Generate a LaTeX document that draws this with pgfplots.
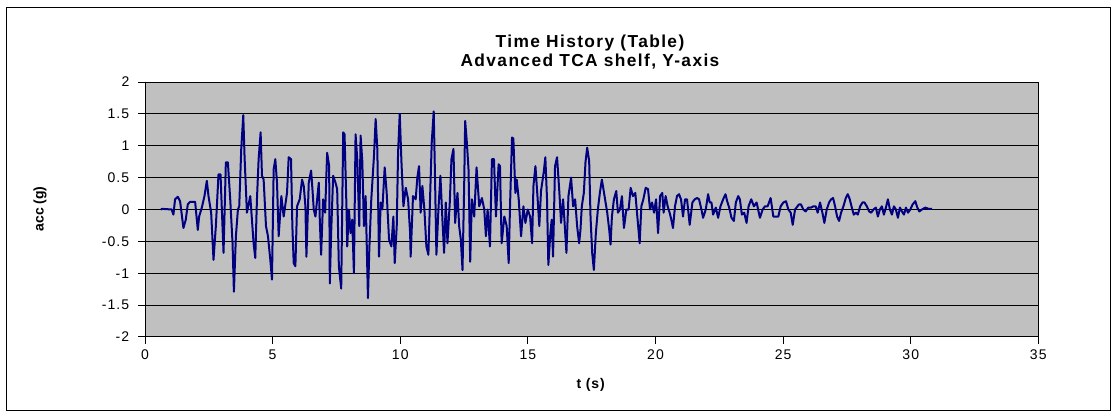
\documentclass[border=0pt]{standalone}
\usepackage{fontspec}
\setmainfont{Liberation Sans}
\usepackage{pgfplots}
\pgfplotsset{compat=1.18}
\definecolor{excelgray}{HTML}{C0C0C0}
\definecolor{excelnavy}{HTML}{000080}
\begin{document}
\begin{tikzpicture}
\path[use as bounding box] (0,0) rectangle (836.25pt,313.5pt);
\draw[black, line width=0.75pt] (4.5pt,5.25pt) rectangle (832.5pt,307.5pt);
\begin{axis}[
  at={(108.75pt,60.75pt)}, anchor=south west,
  scale only axis, width=670pt, height=191.25pt,
  xmin=0, xmax=35, ymin=-2, ymax=2,
  xtick={0,5,...,35}, ytick={-2,-1.5,...,2},
  axis background/.style={fill=excelgray},
  axis line style={draw=black, line width=0.75pt},
  ymajorgrids, grid style={black, line width=0.75pt},
  tick align=outside, major tick length=5.25pt,
  tick style={black, line width=0.75pt},
  xtick pos=bottom, ytick pos=left,
  /pgf/number format/assume math mode=true,
  tick label style={font=\fontsize{10.5}{12}\selectfont\addfontfeatures{LetterSpace=8}},
  yticklabel style={/pgf/number format/fixed, xshift=-3pt},
  xticklabel style={yshift=-1pt},
  clip=false,
]
\addplot[excelnavy, line width=1.5pt, line join=round] coordinates {
(0.62,0) (0.68,0.01) (1.047,0) (1.113,-0.08) (1.178,0.16) (1.283,0.20) (1.375,0.13) (1.506,-0.29) (1.597,-0.16) (1.676,0.08) (1.767,0.12) (1.964,0.12) (2.069,-0.32) (2.121,-0.11) (2.226,0.03) (2.33,0.21) (2.422,0.45) (2.488,0.21) (2.592,-0.05) (2.684,-0.79) (2.776,-0.26) (2.88,0.55) (2.959,0.55) (3.011,0) (3.077,-0.68) (3.168,0.74) (3.247,0.74) (3.339,0.16) (3.43,-0.53) (3.483,-1.29) (3.561,-0.42) (3.64,0) (3.692,0.05) (3.771,0.95) (3.85,1.48) (3.901,0.82) (3.993,-0.05) (4.124,0.21) (4.255,-0.53) (4.32,-0.76) (4.386,0.16) (4.452,0.79) (4.53,1.21) (4.583,0.53) (4.648,0.47) (4.74,-0.26) (4.818,-0.42) (4.91,-0.79) (4.975,-1.1) (5.041,0.63) (5.106,0.79) (5.172,0.42) (5.237,-0.42) (5.342,0.21) (5.433,-0.11)
(5.564,0.26) (5.63,0.82) (5.721,0.79) (5.774,-0.26) (5.826,-0.84) (5.892,-0.89) (5.957,0.05) (6.062,0.16) (6.154,0.47) (6.219,0.37) (6.285,0.05) (6.324,-0.74) (6.416,0.42) (6.508,0.61) (6.56,0.32) (6.612,0) (6.678,-0.11) (6.809,0.42) (6.848,-0.16) (6.9,-0.71) (6.979,0.16) (7.057,-0.05) (7.136,0.89) (7.215,0.68) (7.241,-1.16) (7.293,-0.37) (7.372,0.53) (7.464,0.42) (7.529,0.32) (7.595,-0.89) (7.687,-1.24) (7.765,1.21) (7.818,1.18) (7.896,0) (7.923,-0.58) (7.988,0) (8.054,-0.37) (8.119,-0.16) (8.185,-1.0) (8.25,1.18) (8.316,0.79) (8.395,-0.26) (8.447,1.16) (8.513,0.76) (8.578,-0.26) (8.644,0.21) (8.683,-0.47) (8.735,-1.39) (8.788,-0.63) (8.866,0.16) (8.971,0.84) (9.037,1.42) (9.102,0.95) (9.168,-0.74) (9.234,0.11) (9.299,0) (9.391,0.66) (9.469,0.26) (9.561,-0.47) (9.653,-0.58) (9.731,-0.11) (9.784,-0.84) (9.863,-0.26) (9.915,0.89) (9.98,1.5) (10.046,0.76) (10.125,0.05) (10.216,0.34) (10.308,0.16) (10.387,-0.37)
(10.408,-0.74) (10.5,0.21) (10.605,0.16) (10.67,0.5) (10.736,0.68) (10.801,-0.05) (10.867,0.37) (10.946,0) (11.024,-0.58) (11.103,-0.71) (11.155,0) (11.234,1.05) (11.312,1.54) (11.364,0.47) (11.417,-0.71) (11.496,0) (11.574,0.53) (11.653,-0.16) (11.718,-0.68) (11.784,0.11) (11.85,-0.53) (11.941,0.11) (12.007,0.79) (12.085,0.95) (12.151,-0.21) (12.243,0.26) (12.308,-0.26) (12.374,-0.47) (12.44,-0.95) (12.505,0.37) (12.544,1.39) (12.61,1.05) (12.675,0.63) (12.741,-0.82) (12.806,0.16) (12.898,-0.11) (12.99,0.66) (13.095,0.05) (13.2,0.18) (13.292,0) (13.357,-0.42) (13.423,0) (13.515,-0.58) (13.593,0.79) (13.672,0.79) (13.75,-0.11) (13.855,0.71) (13.908,0.68) (13.973,-0.53) (14.078,-0.11) (14.17,-0.26) (14.249,-0.84) (14.301,0.05) (14.38,1.13) (14.432,1.11) (14.511,0.26) (14.563,0.47) (14.642,0.16) (14.734,-0.42) (14.826,0.05) (14.904,-0.21) (14.996,0) (15.088,-0.11) (15.166,-0.53) (15.219,0.37) (15.297,0.68)
(15.384,0.16) (15.449,-0.26) (15.515,0.29) (15.62,0.58) (15.685,0.82) (15.751,0.16) (15.803,-0.87) (15.882,-0.37) (15.934,-0.16) (15.987,-0.74) (16.065,0.68) (16.144,0.82) (16.236,0.26) (16.301,-0.21) (16.38,0.16) (16.432,-0.16) (16.511,-0.68) (16.59,0.21) (16.694,0.5) (16.773,0.05) (16.852,0.16) (16.93,-0.26) (17.009,-0.53) (17.061,-0.32) (17.114,0.05) (17.193,0.26) (17.258,0.74) (17.324,0.97) (17.402,0.76) (17.455,-0.11) (17.52,-0.68) (17.586,-0.95) (17.664,-0.37) (17.743,0) (17.821,0.26) (17.9,0.47) (18.005,0.21) (18.11,-0.05) (18.188,-0.32) (18.24,-0.55) (18.293,-0.11) (18.372,0.16) (18.463,0.29) (18.529,-0.05) (18.607,0) (18.686,0.21) (18.765,-0.29) (18.857,0) (18.948,0) (19.027,0.34) (19.119,0.21) (19.21,0.26) (19.289,-0.11) (19.381,-0.53) (19.446,0.05) (19.525,0.16) (19.617,0.34) (19.708,0.32) (19.787,0) (19.866,0.11) (19.944,-0.05) (20.023,0.16) (20.102,-0.37) (20.18,0.21)
(20.267,0.26) (20.319,-0.05) (20.398,0.21) (20.477,0.05) (20.555,-0.05) (20.621,-0.16) (20.686,-0.29) (20.765,0.05) (20.843,0.21) (20.922,0.24) (21.001,0.16) (21.079,-0.11) (21.158,0.16) (21.236,0.16) (21.341,-0.24) (21.446,0.11) (21.538,0.16) (21.63,0.18) (21.708,0.16) (21.8,0) (21.865,-0.13) (21.97,0) (22.062,0.24) (22.127,0.11) (22.193,0.11) (22.258,-0.08) (22.363,0.03) (22.455,-0.13) (22.547,0.05) (22.651,0.16) (22.743,0.24) (22.809,0.13) (22.887,0.03) (22.979,-0.13) (23.071,-0.18) (23.149,0.11) (23.241,0.21) (23.307,0.16) (23.385,-0.08) (23.477,-0.05) (23.569,-0.21) (23.647,0.05) (23.752,0.16) (23.857,0.05) (23.962,0.11) (24.093,-0.13) (24.198,0) (24.289,0.05) (24.394,0.05) (24.512,0.18) (24.617,-0.11) (24.721,-0.11) (24.813,-0.11) (24.905,0.05) (25.01,0.11) (25.114,0.13) (25.206,0) (25.298,-0.05) (25.377,-0.24) (25.468,0)
(25.622,0.08) (25.7,0.08) (25.792,0) (25.884,-0.03) (25.988,0.03) (26.093,0.03) (26.185,0.05) (26.277,0.05) (26.355,-0.05) (26.447,0.11) (26.539,-0.05) (26.617,-0.21) (26.709,0) (26.801,0.11) (26.88,0.16) (26.958,0.18) (27.037,0.05) (27.115,-0.11) (27.194,-0.18) (27.272,-0.05) (27.364,0.05) (27.456,0.18) (27.534,0.24) (27.613,0.16) (27.692,0.03) (27.77,-0.08) (27.849,-0.05) (27.927,-0.08) (28.019,0.05) (28.111,0.11) (28.189,0.11) (28.281,0.05) (28.373,-0.03) (28.451,-0.05) (28.543,0) (28.635,0.03) (28.713,-0.11) (28.792,0) (28.87,0.05) (28.949,-0.08) (29.028,0.03) (29.106,0.16) (29.185,0) (29.263,-0.08) (29.342,0.05) (29.42,0) (29.499,-0.13) (29.578,0.03) (29.656,-0.03) (29.735,-0.08) (29.813,0.03) (29.892,-0.05) (29.984,0) (30.075,0.08) (30.18,0.13) (30.259,0.03) (30.337,-0.03) (30.442,0) (30.573,0.03) (30.704,0.01) (30.835,0.01)
};
\end{axis}
\node[align=center, font=\bfseries\fontsize{13}{14}\selectfont\addfontfeatures{LetterSpace=8}] at (442.5pt,274.5pt) {Time History (Table)\\Advanced TCA shelf, Y-axis};
\node[font=\bfseries\fontsize{10.5}{12}\selectfont\addfontfeatures{LetterSpace=6}] at (443pt,24.75pt) {t (s)};
\node[font=\bfseries\fontsize{10.5}{12}\selectfont, rotate=90] at (30pt,156.75pt) {acc (g)};
\end{tikzpicture}
\end{document}
